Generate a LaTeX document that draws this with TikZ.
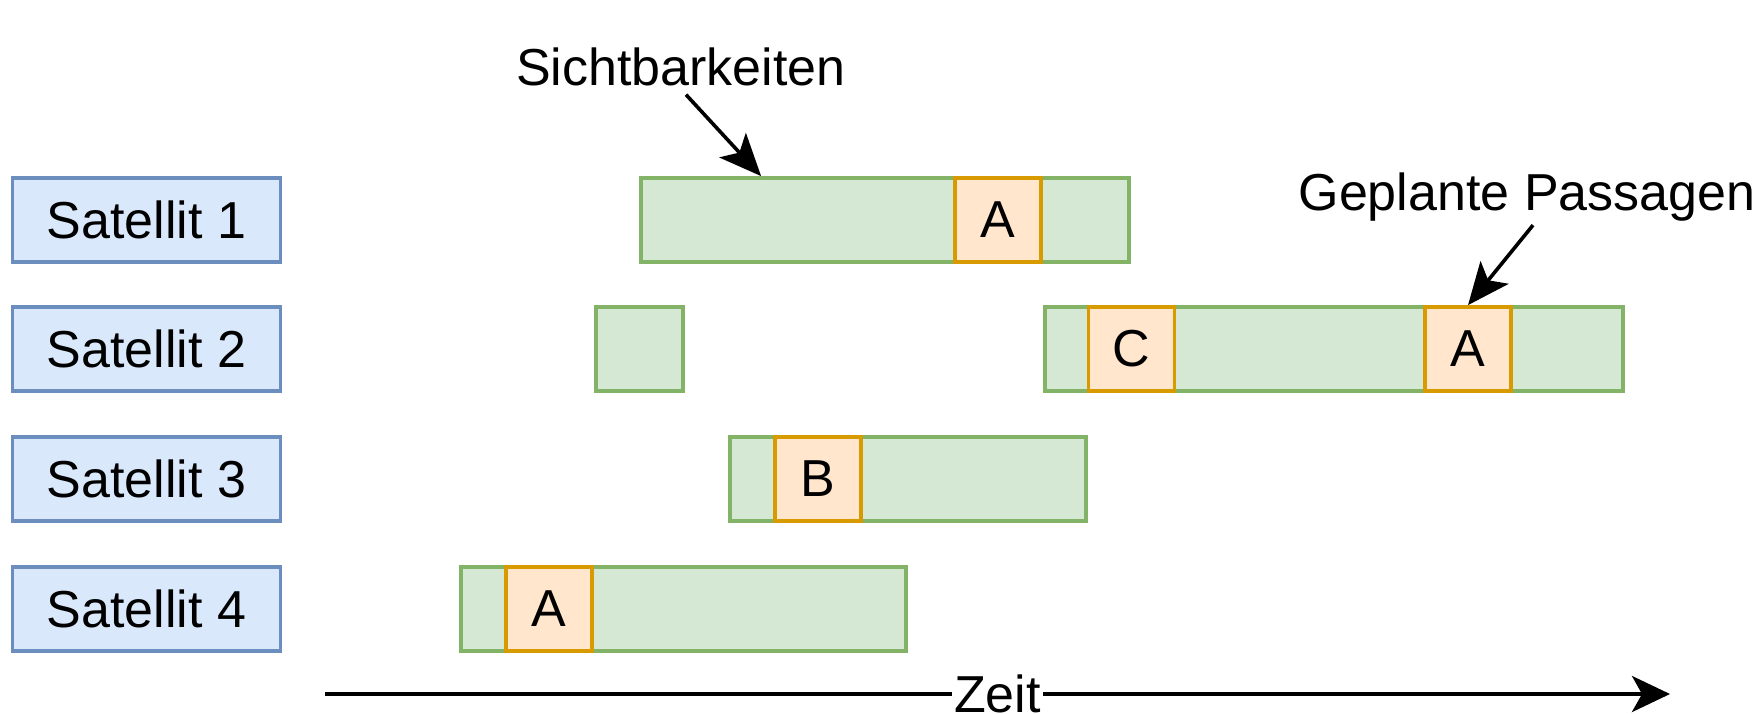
\documentclass[tikz,border=0pt]{standalone}
\usepackage{fontspec}
\setmainfont{Liberation Sans}
\usepackage{tikz}
\usetikzlibrary{arrows.meta}

\definecolor{satfill}{HTML}{DAE8FC}
\definecolor{satline}{HTML}{6C8EBF}
\definecolor{visfill}{HTML}{D5E8D4}
\definecolor{visline}{HTML}{82B366}
\definecolor{passfill}{HTML}{FFE6CC}
\definecolor{passline}{HTML}{D79B00}

\begin{document}
\begin{tikzpicture}[x=0.5pt, y=-0.5pt, line width=1.9pt,
    font=\fontsize{26}{30}\selectfont,
    sat/.style={draw=satline, fill=satfill, minimum width=134pt, minimum height=42pt, inner sep=0pt},
    vis/.style={draw=visline, fill=visfill, minimum height=42pt, inner sep=0pt},
    pass/.style={draw=passline, fill=passfill, minimum width=43pt, minimum height=42pt, inner sep=0pt},
    pointer/.style={line width=1.8pt, -{Stealth[length=21pt, width=18pt, inset=5pt]}}]
  \useasboundingbox (0,0) rectangle (1760,713);

  % satellites
  \node[sat] (s1) at (146.5, 220) {Satellit 1};
  \node[sat] (s2) at (146.5, 349) {Satellit 2};
  \node[sat] (s3) at (146.5, 479) {Satellit 3};
  \node[sat] (s4) at (146.5, 609) {Satellit 4};

  % visibility windows
  \node[vis, minimum width=244pt] (v1)  at (885, 220) {};
  \node[vis, minimum width=43.5pt]  (v2a) at (639.5, 349) {};
  \node[vis, minimum width=289pt] (v2b) at (1334, 349) {};
  \node[vis, minimum width=178pt] (v3)  at (908, 479) {};
  \node[vis, minimum width=222.5pt] (v4)  at (683.5, 609) {};

  % planned passes
  \node[pass] (p1)  at (998, 220) {A};
  \node[pass] (p2c) at (1131.5, 349) {C};
  \node[pass] (p2a) at (1468, 349) {A};
  \node[pass] (p3)  at (818, 479) {B};
  \node[pass] (p4)  at (549, 609) {A};

  % annotations
  \node (sicht) at (681, 67) {Sichtbarkeiten};
  \node[inner sep=1pt] (geplant) at (1527, 197) {Geplante Passagen};
  \draw[pointer] ([xshift=2.5pt]sicht.south) -- ([xshift=61pt]v1.north west);
  \draw[pointer] ([xshift=3pt]geplant.south) -- (p2a.north);

  % time axis
  \coordinate (t0) at (325, 694);
  \coordinate (t1) at (1670, 694);
  \draw[line width=2pt, -{Stealth[length=19pt, width=18pt, inset=5pt]}] (t0) -- node[fill=white, inner sep=1pt] (zeit) {Zeit} (t1);
\end{tikzpicture}
\end{document}
